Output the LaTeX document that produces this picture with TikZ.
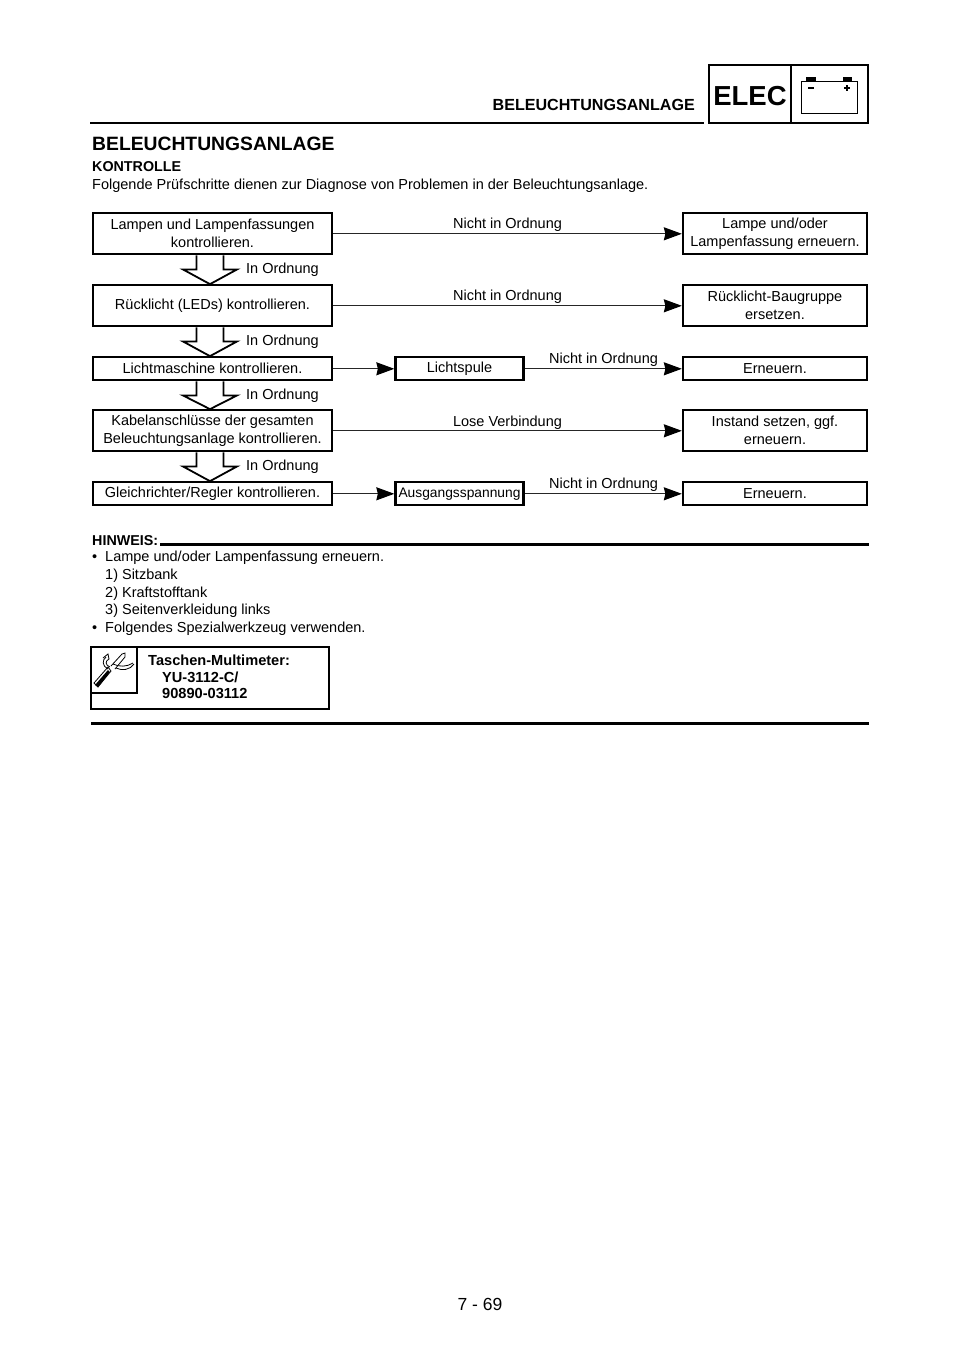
\documentclass[tikz,border=0pt]{standalone}
\usepackage{fontspec}
\setmainfont{Liberation Sans}
\usetikzlibrary{calc,arrows.meta}
\tikzset{
  x=1pt,y=-1pt,
  fbox/.style={draw=black,line width=2.3pt,fill=white,inner sep=0pt,align=center,font=\fontsize{14.5}{18}\selectfont},
  lbl/.style={inner sep=0pt,font=\fontsize{14.5}{18}\selectfont},
  txt/.style={inner sep=0pt,anchor=base west,font=\fontsize{14.5}{18}\selectfont},
  btxt/.style={txt,font=\fontsize{14.3}{18}\selectfont\bfseries},
  conn/.style={draw=black!85,line width=1.3pt,-{Stealth[length=18pt,width=13pt,inset=1.5pt,black]}},
  rule/.style={line width=2.4pt,black},
}
\newcommand{\okarrow}[3]{%
  \draw[line width=1.8pt,fill=white,line join=miter]
    ($(#1.south)+(-16,0)$) -- ($(#1.south)+(-16,14)$) -- ($(#1.south)+(-29.5,14)$)
    -- ($(#2.north)+(-2.5,0)$) -- ($(#1.south)+(24.5,14)$) -- ($(#1.south)+(11,14)$) -- ($(#1.south)+(11,0)$);
  \node[lbl,anchor=base west] (#3) at ($(#1.south)+(33.5,18.5)$) {In Ordnung};}
\begin{document}
\begin{tikzpicture}
\useasboundingbox[fill=white] (0,0) rectangle (960,1358);
% header
\node[btxt,font=\fontsize{16.1}{18}\selectfont\bfseries,anchor=base east] (hd) at (695,110) {BELEUCHTUNGSANLAGE};
\draw[rule] (90,123) -- (704,123);
\node[draw,line width=2.4pt,minimum width=159pt,minimum height=58pt,inner sep=0pt] (elecbox) at (788.5,94) {};
\draw[line width=2.4pt] (791,65) -- (791,123);
\node[inner sep=0pt,font=\fontsize{27.5}{30}\selectfont\bfseries] (elec) at (750,96) {ELEC};
\draw[line width=1pt] (801,81) rectangle (857,113);
\fill (806,77) rectangle (816,81);
\fill (843,77) rectangle (852,81);
\draw[line width=1.2pt] (808,88) -- (814,88);
\draw[line width=1.2pt] (844,88) -- (850,88) (847,85) -- (847,91);
% title
\node[txt,font=\fontsize{19.3}{22}\selectfont\bfseries] (title) at (92,150) {BELEUCHTUNGSANLAGE};
\node[btxt] (ko) at (92,171) {KONTROLLE};
\node[txt] (fo) at (92,189) {Folgende Prüfschritte dienen zur Diagnose von Problemen in der Beleuchtungsanlage.};
% left boxes
\node[fbox,minimum width=239pt,minimum height=41pt] (a1) at (212.5,233.8) {Lampen und Lampenfassungen\\kontrollieren.};
\node[fbox,minimum width=239pt,minimum height=41pt] (a2) at (212.5,305.8) {Rücklicht (LEDs) kontrollieren.};
\node[fbox,minimum width=239pt,minimum height=23pt] (a3) at (212.5,368.8) {Lichtmaschine kontrollieren.};
\node[fbox,minimum width=239pt,minimum height=41pt] (a4) at (212.5,430.8) {Kabelanschlüsse der gesamten\\Beleuchtungsanlage kontrollieren.};
\node[fbox,minimum width=239pt,minimum height=23pt] (a5) at (212.5,493.8) {Gleichrichter/Regler kontrollieren.};
% right boxes
\node[fbox,minimum width=184pt,minimum height=41pt] (r1) at (775,233.8) {Lampe und/oder\\Lampenfassung erneuern.};
\node[fbox,minimum width=184pt,minimum height=41pt] (r2) at (775,305.8) {Rücklicht-Baugruppe\\ersetzen.};
\node[fbox,minimum width=184pt,minimum height=23pt] (r3) at (775,368.8) {Erneuern.};
\node[fbox,minimum width=184pt,minimum height=41pt] (r4) at (775,430.8) {Instand setzen, ggf.\\erneuern.};
\node[fbox,minimum width=184pt,minimum height=23pt] (r5) at (775,493.8) {Erneuern.};
% middle boxes
\node[fbox,minimum width=128pt,minimum height=23pt] (m3) at (459.5,368.8) {Lichtspule};
\node[fbox,minimum width=128pt,minimum height=23pt] (m5) at (459.5,493.8) {\fontsize{13.8}{18}\selectfont Ausgangsspannung};
% connectors
\draw[conn] (a1) -- (r1);
\draw[conn] (a2) -- (r2);
\draw[conn] (a3) -- (m3);
\draw[conn] (m3) -- (r3);
\draw[conn] (a4) -- (r4);
\draw[conn] (a5) -- (m5);
\draw[conn] (m5) -- (r5);
\node[lbl] (l1) at (507.5,225) {Nicht in Ordnung};
\node[lbl] (l2) at (507.5,297) {Nicht in Ordnung};
\node[lbl] (l3) at (603.5,359.5) {Nicht in Ordnung};
\node[lbl] (l4) at (507.5,423) {Lose Verbindung};
\node[lbl] (l5) at (603.5,485) {Nicht in Ordnung};
% hollow arrows
\okarrow{a1}{a2}{o1}
\okarrow{a2}{a3}{o2}
\okarrow{a3}{a4}{o3}
\okarrow{a4}{a5}{o4}
% note
\node[btxt] (hw) at (92,545) {HINWEIS:};
\draw[line width=3pt] (160,544) -- (869,544);
\node[txt] (b1) at (92,561) {•};
\node[txt] (b1t) at (105,561) {Lampe und/oder Lampenfassung erneuern.};
\node[txt] (s1) at (105,579) {1) Sitzbank};
\node[txt] (s2) at (105,597) {2) Kraftstofftank};
\node[txt] (s3) at (105,614) {3) Seitenverkleidung links};
\node[txt] (b2) at (92,632) {•};
\node[txt] (b2t) at (105,632) {Folgendes Spezialwerkzeug verwenden.};
% tool box
\draw[line width=2.4pt] (91,647) rectangle (329,709);
\draw[line width=2.4pt] (91,647) rectangle (137,693);
% tool icon
\draw[line width=.8pt,fill=white] (94,683) -- (108,667) -- (111,671) -- (98,687) -- cycle;
\fill (95,685) -- (108,670) -- (110,672) -- (98,687) -- cycle;
\draw[line width=.8pt] (111,666) -- (122,654) -- (125,653) -- (125,657) -- (115,669);
\draw[line width=.8pt] (103,658) -- (108,654) -- (109,659) .. controls (105,661) and (105,665) .. (110,667);
\draw[line width=.8pt] (106,657) .. controls (102,660) and (102,666) .. (108,669);
\draw[line width=.8pt] (113,664) .. controls (119,667) and (127,667) .. (133,663);
\draw[line width=.8pt] (116,668) .. controls (122,671) and (130,670) .. (134,664);
\node[btxt,font=\fontsize{14.6}{18}\selectfont\bfseries] (t1) at (148,665) {Taschen-Multimeter:};
\node[btxt,font=\fontsize{14.6}{18}\selectfont\bfseries] (t2) at (162,682) {YU-3112-C/};
\node[btxt,font=\fontsize{14.6}{18}\selectfont\bfseries] (t3) at (162,698) {90890-03112};
\draw[line width=3pt] (91,723) -- (869,723);
\node[inner sep=0pt,font=\fontsize{17.5}{20}\selectfont] (pg) at (480,1304) {7 - 69};
\end{tikzpicture}
\end{document}
